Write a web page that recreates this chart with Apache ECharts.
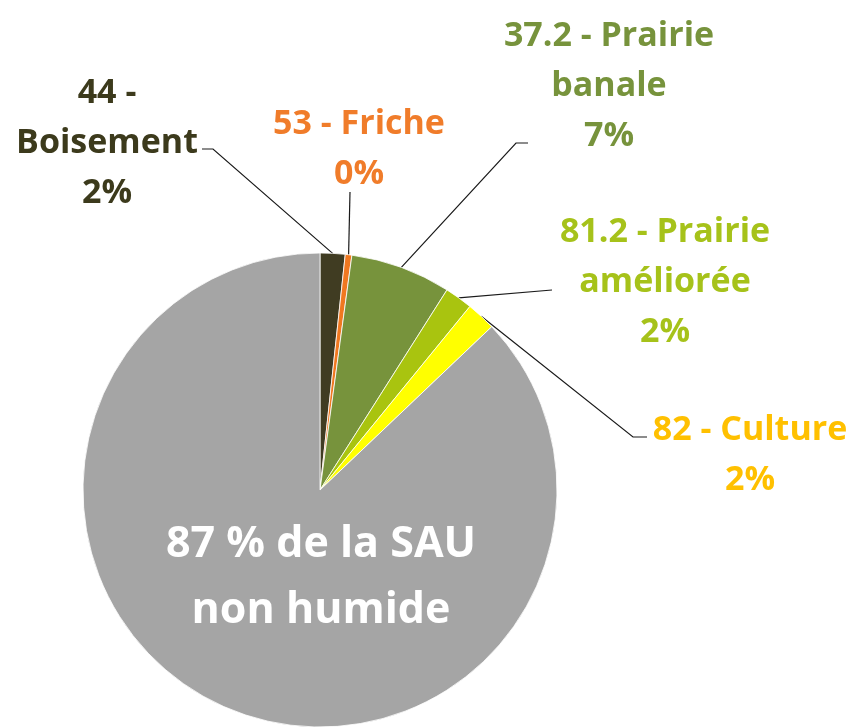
<!DOCTYPE html>
<html>
<head>
<meta charset="utf-8">
<title>SAU</title>
<script src="https://cdn.jsdelivr.net/npm/echarts@6/dist/echarts.min.js"></script>
<style>
	html, body { margin: 0; padding: 0; background: #fff; }
	#sau_charts { width: 857px; height: 727px; }
</style>
</head>
<body>
<div id="sau_charts"></div>
<script>
// catégories (sens horaire depuis midi)
var categories = ['44 -\nBoisement', '53 - Friche', '37.2 - Prairie\nbanale', '81.2 - Prairie\naméliorée', '82 - Culture', 'de la SAU\nnon humide'];
// part de la SAU, en %
var shares = [1.7, 0.45, 6.85, 1.9, 2.0, 87.1];
// couleurs des parts et des étiquettes
var sliceColors = ['#403c22', '#f07820', '#77933c', '#a9c40f', '#ffff00', '#a5a5a5'];
var labelColors = ['#3c3a1c', '#f07c2a', '#77933c', '#a6c21a', '#ffc000', '#ffffff'];

var SauChart = {

	// position des étiquettes et coudes des traits de rappel
	spots: [
		{ x: 107, y: 143, line: [[213, 149], [202, 149]] },
		{ x: 359, y: 149, line: [[350, 192]] },
		{ x: 609, y: 86, line: [[516, 143], [528, 143]] },
		{ x: 665, y: 282, line: [[552, 290]] },
		{ x: 750, y: 455, line: [[633, 437], [647, 437]] },
		{ x: 321, y: 578 }
	],

	init: function () {
		this.chart = echarts.init(document.getElementById('sau_charts'));
		this.render();
	},

	render: function () {
		var _self = this;
		var data = [];
		for (var i = 0; i < categories.length; i++) {
			var item = {
				name: categories[i],
				value: shares[i],
				itemStyle: { color: sliceColors[i] },
				label: { color: labelColors[i] }
			};
			// la part grise porte son texte à l'intérieur
			if (i == categories.length - 1) {
				item.label = {
					position: 'inside',
					color: labelColors[i],
					fontSize: 43,
					lineHeight: 66
				};
				item.labelLine = { show: false };
			}
			data.push(item);
		}

		var option = {
			animation: false,
			series: [
				{
					type: 'pie',
					center: [320, 490],
					radius: 237,
					startAngle: 90,
					clockwise: true,
					percentPrecision: 0,
					itemStyle: {
						borderColor: '#ffffff',
						borderWidth: 0.8
					},
					label: {
						show: true,
						position: 'outside',
						fontFamily: '"Open Sans", sans-serif',
						fontWeight: 'bold',
						fontSize: 34,
						lineHeight: 50,
						align: 'center',
						formatter: function (p) {
							if (p.dataIndex == categories.length - 1) {
								return p.percent + ' % ' + p.name;
							}
							return p.name + '\n' + p.percent + '%';
						}
					},
					labelLine: {
						show: true,
						lineStyle: { color: '#1a1a1a', width: 1.2 }
					},
					labelLayout: function (params) {
						var spot = _self.spots[params.dataIndex];
						var res = {
							x: spot.x,
							y: spot.y,
							align: 'center',
							verticalAlign: 'middle'
						};
						if (spot.line && params.labelLinePoints) {
							res.labelLinePoints = [params.labelLinePoints[0]].concat(spot.line);
						}
						return res;
					},
					data: data
				}
			]
		};

		this.chart.setOption(option);
	}
};

SauChart.init();
</script>
</body>
</html>
